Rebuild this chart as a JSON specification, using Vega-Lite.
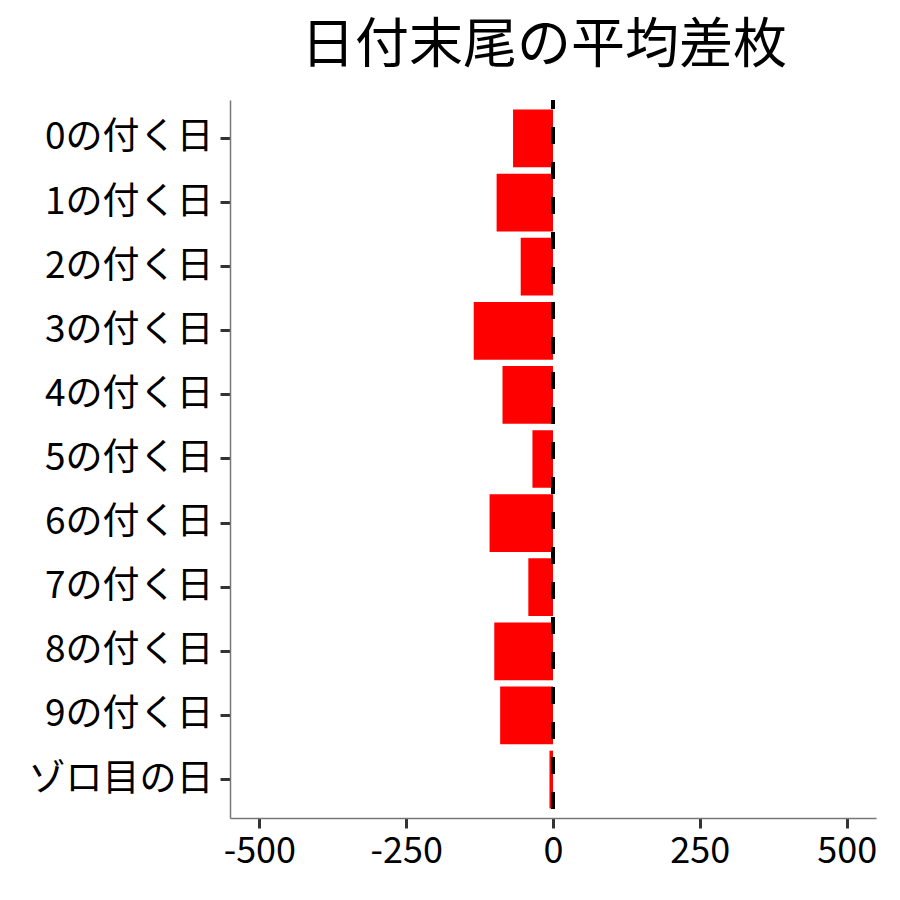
{
  "$schema": "https://vega.github.io/schema/vega-lite/v6.json",
  "autosize": "none",
  "width": 646,
  "height": 718,
  "padding": {"left": 230, "top": 100, "right": 24, "bottom": 82},
  "background": "white",
  "config": {
    "view": {"stroke": null},
    "font": "Noto Sans CJK JP"
  },
  "title": {
    "text": "日付末尾の平均差枚",
    "fontSize": 54,
    "fontWeight": "normal",
    "font": "Noto Sans CJK JP",
    "color": "black",
    "anchor": "middle",
    "frame": "group",
    "offset": 24,
    "dx": -9
  },
  "data": {
    "values": [
      {"day": "0の付く日", "diff": -68},
      {"day": "1の付く日", "diff": -96},
      {"day": "2の付く日", "diff": -55},
      {"day": "3の付く日", "diff": -135},
      {"day": "4の付く日", "diff": -86},
      {"day": "5の付く日", "diff": -35},
      {"day": "6の付く日", "diff": -108},
      {"day": "7の付く日", "diff": -42},
      {"day": "8の付く日", "diff": -100},
      {"day": "9の付く日", "diff": -90},
      {"day": "ゾロ目の日", "diff": -6}
    ]
  },
  "layer": [
    {
      "mark": {"type": "bar", "color": "#FF0000"},
      "encoding": {
        "y": {
          "field": "day",
          "type": "nominal",
          "sort": null,
          "scale": {"paddingInner": 0.1, "paddingOuter": 0.15},
          "axis": {
            "title": null,
            "labelFontSize": 37,
            "labelLimit": 0,
            "labelColor": "black",
            "labelPadding": 7,
            "tickSize": 10,
            "tickWidth": 3,
            "tickColor": "#333333",
            "domainColor": "#777777",
            "domainWidth": 1.5,
            "grid": false
          }
        },
        "x": {
          "field": "diff",
          "type": "quantitative",
          "scale": {"domain": [-550, 550], "nice": false, "zero": false},
          "axis": {
            "title": null,
            "values": [-500, -250, 0, 250, 500],
            "labelExpr": "'' + datum.value",
            "labelFontSize": 36,
            "labelColor": "black",
            "labelPadding": 6,
            "tickSize": 10,
            "tickWidth": 3,
            "tickColor": "#333333",
            "domainColor": "#777777",
            "domainWidth": 1.5,
            "grid": false
          }
        }
      }
    },
    {
      "mark": {"type": "rule", "color": "black", "strokeWidth": 4, "strokeDash": [17, 18], "strokeDashOffset": 8},
      "encoding": {"x": {"datum": 0}}
    }
  ]
}
